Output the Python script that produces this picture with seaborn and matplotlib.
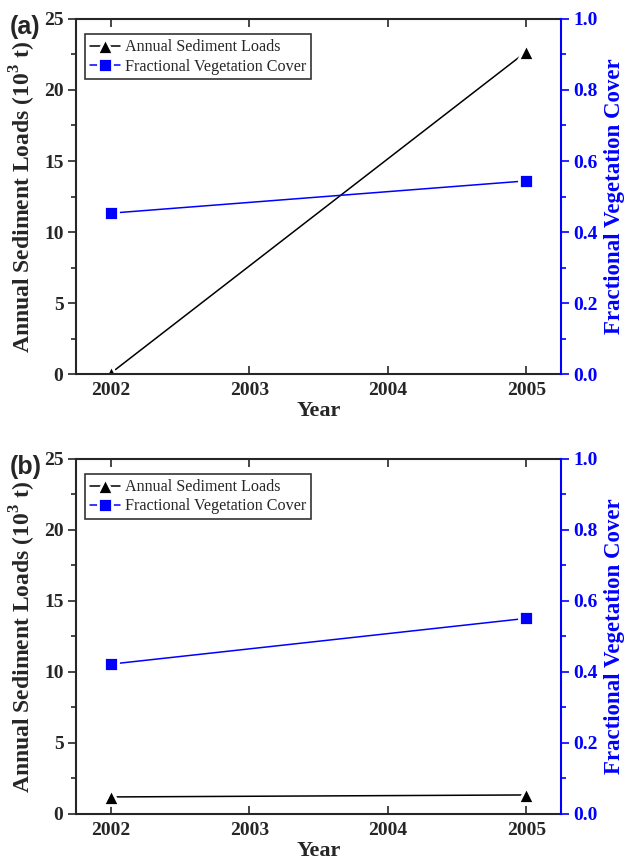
import matplotlib
matplotlib.use("Agg")
import matplotlib.pyplot as plt
import seaborn as sns
import pandas as pd
from matplotlib.ticker import MultipleLocator, FixedLocator, FormatStrFormatter

sns.set_style("ticks")
plt.rcParams['font.family'] = ['Liberation Serif', 'DejaVu Serif']
plt.rcParams['mathtext.fontset'] = 'custom'
plt.rcParams['mathtext.rm'] = 'Liberation Serif:bold'
plt.rcParams['mathtext.bf'] = 'Liberation Serif:bold'

years = [2002, 2005]
sed_a = [0.05, 22.7]
fvc_a = [0.453, 0.544]
sed_b = [1.2, 1.34]
fvc_b = [0.422, 0.551]
panel_labels = ["(a)", "(b)"]
x_ticks = [2002, 2003, 2004, 2005]

fig = plt.figure(figsize=(6.27, 8.63), dpi=100)
rects = [[0.1212, 0.5666, 0.7735, 0.4114], [0.1212, 0.0568, 0.7735, 0.4114]]
blue = '#0000ff'

for rect, sed, fvc, lab in zip(rects, [sed_a, sed_b], [fvc_a, fvc_b], panel_labels):
    ax = fig.add_axes(rect)
    ax2 = ax.twinx()
    df = pd.DataFrame({"Year": years, "Sed": sed, "FVC": fvc})
    sns.lineplot(data=df, x="Year", y="Sed", ax=ax, color='black', marker='^',
                 markersize=11, markeredgecolor='white', markeredgewidth=2.0,
                 linewidth=1.1, label="Annual Sediment Loads", legend=False)
    sns.lineplot(data=df, x="Year", y="FVC", ax=ax2, color=blue, marker='s',
                 markersize=9.5, markeredgecolor='white', markeredgewidth=2.0,
                 linewidth=1.1, label="Fractional Vegetation Cover", legend=False)
    ax.set_xlim(2001.75, 2005.25)
    ax.set_ylim(0, 25)
    ax2.set_ylim(0, 1.0)
    ax.xaxis.set_major_locator(FixedLocator(x_ticks))
    ax.yaxis.set_major_locator(MultipleLocator(5))
    ax.yaxis.set_minor_locator(MultipleLocator(2.5))
    ax2.yaxis.set_major_locator(MultipleLocator(0.2))
    ax2.yaxis.set_minor_locator(MultipleLocator(0.1))
    ax.set_xticklabels([str(t) for t in x_ticks])
    ax2.yaxis.set_major_formatter(FormatStrFormatter('%.1f'))

    for s in ['left', 'bottom', 'top']:
        ax.spines[s].set_linewidth(1.5)
        ax.spines[s].set_visible(True)
        ax2.spines[s].set_visible(False)
    ax.spines['right'].set_visible(False)
    ax2.spines['right'].set_color(blue)
    ax2.spines['right'].set_linewidth(1.5)

    ax.tick_params(axis='x', which='major', direction='in', top=True, bottom=True,
                   length=6, width=1.2, labelsize=14, pad=6)
    ax.tick_params(axis='y', which='major', direction='out', length=6, width=1.2,
                   labelsize=14, right=False, pad=3)
    ax.tick_params(axis='y', which='minor', direction='out', length=3.5, width=1.2, right=False)
    ax2.tick_params(axis='y', which='major', direction='out', length=6, width=1.2,
                    labelsize=14, colors=blue, pad=3)
    ax2.tick_params(axis='y', which='minor', direction='out', length=3.5, width=1.2, colors=blue)
    for t in ax.get_xticklabels() + ax.get_yticklabels() + ax2.get_yticklabels():
        t.set_fontweight('bold')

    ax.set_xlabel("Year", fontsize=16, fontweight='bold', labelpad=1)
    ax.set_ylabel("Annual Sediment Loads (10$^{3}$ t)", fontsize=17, fontweight='bold', labelpad=4)
    ax2.set_ylabel("Fractional Vegetation Cover", fontsize=16.5, fontweight='bold', color=blue, labelpad=4)

    h1, l1 = ax.get_legend_handles_labels()
    h2, l2 = ax2.get_legend_handles_labels()
    leg = ax2.legend(h1 + h2, l1 + l2, loc='upper left', bbox_to_anchor=(0.008, 0.97),
                     fontsize=11.6, frameon=True, fancybox=False, edgecolor='black',
                     handlelength=1.9, handletextpad=0.3, borderpad=0.3, labelspacing=0.2,
                     borderaxespad=0.3)
    leg.get_frame().set_linewidth(1.2)

    fig.text(0.015, rect[1] + rect[3] + 0.005, lab, fontsize=18, fontweight='bold',
             family=['Liberation Sans', 'DejaVu Sans'], va='top', ha='left')

fig.savefig("out.png", dpi=100)
